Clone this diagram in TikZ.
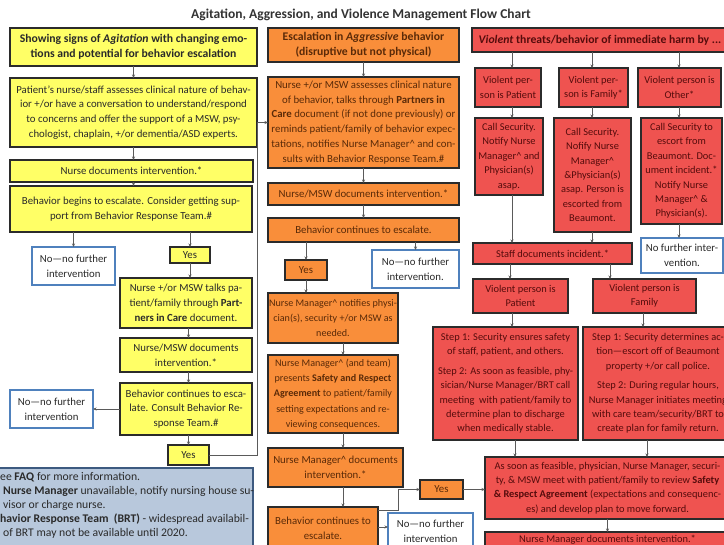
\documentclass[tikz,border=0pt]{standalone}
\usepackage{fontspec}
\setmainfont{Carlito}
\usetikzlibrary{arrows.meta}
\definecolor{yfill}{HTML}{FFFF66}
\definecolor{ofill}{HTML}{F98E3A}
\definecolor{rfill}{HTML}{EF5350}
\definecolor{boxline}{HTML}{2B2B2B}
\definecolor{nblue}{HTML}{4F81BD}
\definecolor{ffill}{HTML}{B8C8DC}
\definecolor{fline}{HTML}{3D5A80}
\definecolor{conncol}{HTML}{5A5A5A}
\definecolor{ytext}{HTML}{2A2A2A}
\definecolor{otext}{HTML}{5A2A08}
\definecolor{rtext}{HTML}{550C0C}
\definecolor{ntext}{HTML}{2A2A2A}
\definecolor{titlecol}{HTML}{333333}
\tikzset{
  base/.style={draw=boxline, line width=1.5pt, inner sep=0pt, outer sep=0pt, align=center, font=\fontsize{10.8}{14.8}\selectfont},
  ybox/.style={base, fill=yfill, text=ytext},
  obox/.style={base, fill=ofill, text=otext},
  rbox/.style={base, fill=rfill, text=rtext, font=\fontsize{10.4}{14.4}\selectfont},
  nbox/.style={base, draw=nblue, line width=2.4pt, fill=white, text=ntext},
  hdr/.style={font=\fontsize{11.7}{15.2}\selectfont\bfseries},
  small/.style={font=\fontsize{10.1}{15.4}\selectfont},
  conn/.style={draw=conncol, line width=0.8pt, -{Stealth[length=3.5pt,width=3pt]}},
}
\newcommand{\bx}[7]{\node[#1, minimum width={(#5-(#3))*1pt}, minimum height={(#6-(#4))*1pt}] (#2) at ({(#3+#5)/2},{(#4+#6)/2}) {#7};}
\begin{document}
\begin{tikzpicture}[x=1pt,y=-1pt]
\useasboundingbox (0,0) rectangle (724,545);
\fill[white] (0,0) rectangle (724,545);
\begin{scope}
\clip (0,0) rectangle (724,545);
\node[font=\fontsize{13.5}{15}\selectfont\bfseries, text=titlecol] (title) at (361,15) {Agitation, Aggression, and Violence Management Flow Chart};

% left column
\bx{ybox,hdr}{L1}{10}{28}{257}{66}{Showing signs of \textit{Agitation} with changing emo-\\tions and potential for behavior escalation}
\bx{ybox}{L2}{10}{78}{257}{147}{Patient’s nurse/staff assesses clinical nature of behav-\\ior +/or have a conversation to understand/respond\\to concerns and offer the support of a MSW, psy-\\chologist, chaplain, +/or dementia/ASD experts.}
\bx{ybox}{L3}{10}{160}{253}{182}{Nurse documents intervention.*}
\bx{ybox}{L4}{10}{186}{252}{232}{Behavior begins to escalate. Consider getting sup-\\port from Behavior Response Team.\#}
\bx{nbox}{L5}{32}{247}{115}{285}{No—no further\\intervention}
\bx{ybox}{L6}{170}{247}{210}{263}{Yes}
\bx{ybox}{L7}{120}{278}{252}{328}{Nurse +/or MSW talks pa-\\tient/family through \textbf{Part-}\\\textbf{ners in Care} document.}
\bx{ybox}{L8}{120}{338}{252}{372}{Nurse/MSW documents\\intervention.*}
\bx{ybox}{L9}{120}{383}{252}{435}{Behavior continues to esca-\\late. Consult Behavior Re-\\sponse Team.\#}
\bx{nbox}{L10}{10}{390}{93}{428}{No—no further\\intervention}
\bx{ybox}{L11}{168}{445}{209}{465}{Yes}
\draw[fline, line width=2pt, fill=ffill] (-5,468) rectangle (253,560);
\node[anchor=north west, align=left, inner sep=0pt, text=ytext, font=\fontsize{11.7}{14}\selectfont] (foot) at (0,472) {ee \textbf{FAQ} for more information.\\\hspace*{3pt}\textbf{Nurse Manager} unavailable, notify nursing house su-\\\hspace*{3pt}visor or charge nurse.\\\textbf{havior Response Team\ \ (BRT)} - widespread availabil-\\\hspace*{3pt}of BRT may not be available until 2020.};

% middle column
\bx{obox,hdr}{O1}{268}{28}{459}{62}{Escalation in \textit{Aggressive} behavior\\(disruptive but not physical)}
\bx{obox}{O2}{268}{77}{459}{168}{Nurse +/or MSW assesses clinical nature\\of behavior, talks through \textbf{Partners in}\\\textbf{Care} document (if not done previously) or\\reminds patient/family of behavior expec-\\tations, notifies Nurse Manager\textasciicircum{} and con-\\sults with Behavior Response Team.\#}
\bx{obox}{O3}{268}{183}{459}{205}{Nurse/MSW documents intervention.*}
\bx{obox}{O4}{268}{218}{459}{242}{Behavior continues to escalate.}
\bx{obox}{O5}{285}{260}{327}{280}{Yes}
\bx{nbox}{O6}{372}{250}{459}{288}{No—no further\\intervention.}
\bx{obox,small}{O7}{268}{293}{398}{343}{Nurse Manager\textasciicircum{} notifies physi-\\cian(s), security +/or MSW as\\needed.}
\bx{obox,small}{O8}{268}{355}{398}{433}{Nurse Manager\textasciicircum{} (and team)\\presents \textbf{Safety and Respect}\\\textbf{Agreement} to patient/family\\setting expectations and re-\\viewing consequences.}
\bx{obox}{O9}{268}{448}{403}{487}{Nurse Manager\textasciicircum{} documents\\intervention.*}
\bx{obox}{O10}{268}{507}{378}{550}{Behavior continues to\\escalate.}
\bx{obox}{O11}{420}{480}{463}{499}{Yes}
\bx{nbox}{O12}{388}{513}{473}{550}{No—no further\\intervention}

% right column
\bx{rbox,hdr}{R1}{472}{28}{728}{52}{\textit{Violent} threats/behavior of immediate harm by ...}
\bx{rbox}{R2a}{475}{68}{541}{107}{Violent per-\\son is Patient}
\bx{rbox}{R2b}{559}{68}{628}{107}{Violent per-\\son is Family*}
\bx{rbox}{R2c}{638}{68}{721}{107}{Violent person is\\Other*}
\bx{rbox}{R3a}{475}{118}{543}{195}{Call Security.\\Notify Nurse\\Manager\textasciicircum{} and\\Physician(s)\\asap.}
\bx{rbox}{R3b}{554}{118}{631}{232}{Call Security.\\Nofify Nurse\\Manager\textasciicircum\\\&Physician(s)\\asap. Person is\\escorted from\\Beaumont.}
\bx{rbox}{R3c}{641}{118}{722}{224}{Call Security to\\escort from\\Beaumont. Doc-\\ument incident.*\\Notify Nurse\\Manager\textasciicircum{} \&\\Physician(s).}
\bx{nbox}{R4}{641}{238}{723}{273}{No further inter-\\vention.}
\bx{rbox}{R5}{473}{243}{632}{264}{Staff documents incident.*}
\bx{rbox}{R6a}{473}{279}{568}{313}{Violent person is\\Patient}
\bx{rbox}{R6b}{593}{279}{696}{313}{Violent person is\\Family}
\bx{rbox}{R7a}{433}{327}{578}{440}{Step 1: Security ensures safety\\of staff, patient, and others.\\[5pt]Step 2: As soon as feasible, phy-\\sician/Nurse Manager/BRT call\\meeting~ with patient/family to\\determine plan to discharge\\when medically stable.}
\bx{rbox}{R7b}{583}{327}{733}{440}{Step 1: Security determines ac-\\tion—escort off of Beaumont\\property +/or call police.\\[5pt]Step 2: During regular hours,\\Nurse Manager initiates meeting\\with care team/security/BRT to\\create plan for family return.}
\bx{rbox}{R8}{485}{457}{730}{519}{As soon as feasible, physician, Nurse Manager, securi-\\ty, \& MSW meet with patient/family to review \textbf{Safety}\\\textbf{\& Respect Agreement} (expectations and consequenc-\\es) and develop plan to move forward.}
\bx{rbox}{R9}{485}{532}{730}{548}{Nurse Manager documents intervention.*}

% column guides
\coordinate (jog) at (257,0);
\coordinate (oc) at (343,0);
\coordinate (ojog) at (398,0);
\coordinate (ra) at (512,0);
\coordinate (rb) at (592,0);
\coordinate (rc) at (679,0);
\coordinate (rd) at (510,0);
\coordinate (re) at (610,0);
\coordinate (rf) at (643,0);
\coordinate (rg) at (515,0);
\coordinate (rh) at (647,0);

% left connectors
\draw[conn] (L1.south) -- (L2.north);
\draw[conn] (L2.south) -- (L2.south |- L3.north);
\draw[conn] (L2.south |- L3.south) -- (L2.south |- L4.north);
\draw[conn] (L5.north |- L4.south) -- (L5.north);
\draw[conn] (L6.north |- L4.south) -- (L6.north);
\draw[conn] (L6.south) -- (L6.south |- L7.north);
\draw[conn] (L11.north |- L7.south) -- (L11.north |- L8.north);
\draw[conn] (L11.north |- L8.south) -- (L11.north |- L9.north);
\draw[conn] (L11.north |- L9.south) -- (L11.north);
\draw[conn] (L9.west) -- (L10.east);
\draw[conn] (L11.east) -- (L11.east -| jog) -- (O2.west -| jog) -- (O2.west);

% middle connectors
\draw[conn] (O1.south) -- (O2.north);
\draw[conn] (O2.south) -- (O3.north);
\draw[conn] (O3.south) -- (O4.north);
\draw[conn] (O5.north |- O4.south) -- (O5.north);
\draw[conn] (O6.north |- O4.south) -- (O6.north);
\draw[conn] (O5.south) -- (O5.south |- O7.north);
\draw[conn] (oc |- O7.south) -- (oc |- O8.north);
\draw[conn] (oc |- O8.south) -- (oc |- O9.north);
\draw[conn] (oc |- O9.south) -- (oc |- O10.north);
\draw[conn] (O10.east |- 0,510) -- (ojog |- 0,510) -- (ojog |- O11.west) -- (O11.west);
\draw[conn] (O10.east |- 0,527) -- (O12.west |- 0,527);
\draw[conn] (O11.east) -- (R8.west |- O11.east);

% right connectors
\draw[conn] (ra |- R1.south) -- (ra |- R2a.north);
\draw[conn] (rb |- R1.south) -- (rb |- R2b.north);
\draw[conn] (rc |- R1.south) -- (rc |- R2c.north);
\draw[conn] (ra |- R2a.south) -- (ra |- R3a.north);
\draw[conn] (rb |- R2b.south) -- (rb |- R3b.north);
\draw[conn] (rc |- R2c.south) -- (rc |- R3c.north);
\draw[conn] (ra |- R3a.south) -- (ra |- R5.north);
\draw[conn] (rb |- R3b.south) -- (rb |- R5.north);
\draw[conn] (rc |- R3c.south) -- (rc |- R4.north);
\draw[conn] (rd |- R5.south) -- (rd |- R6a.north);
\draw[conn] (re |- R5.south) -- (re |- R6b.north);
\draw[conn] (ra |- R6a.south) -- (ra |- R7a.north);
\draw[conn] (rf |- R6b.south) -- (rf |- R7b.north);
\draw[conn] (rg |- R7a.south) -- (rg |- R8.north);
\draw[conn] (rh |- R7b.south) -- (rh |- R8.north);
\draw[conn] (R8.south) -- (R9.north);
\end{scope}
\end{tikzpicture}
\end{document}
